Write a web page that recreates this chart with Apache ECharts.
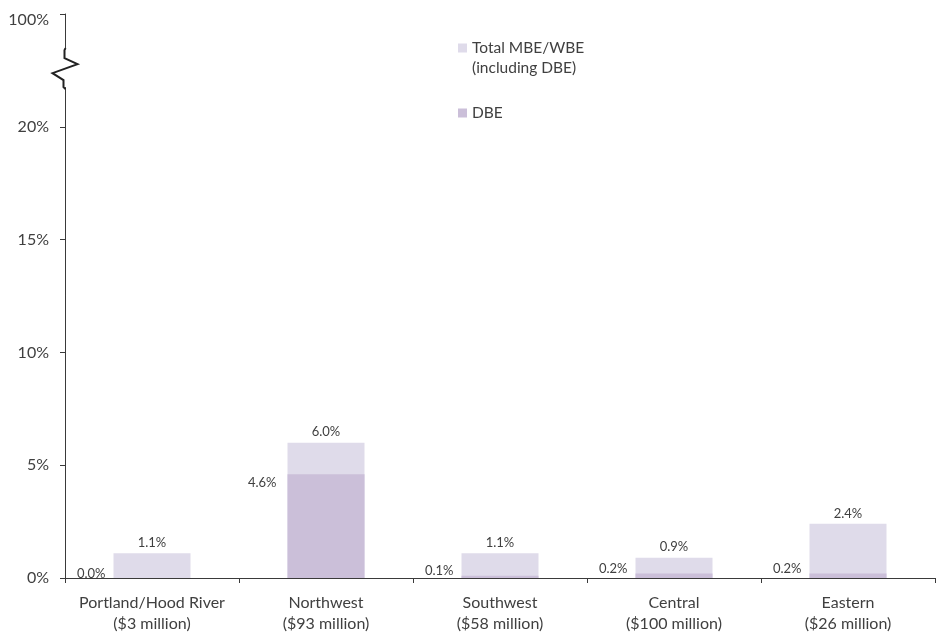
<!DOCTYPE html>
<html>
<head>
<meta charset="utf-8">
<style>
  html, body { margin: 0; padding: 0; background: #ffffff; }
  #chart { width: 940px; height: 634px; }
</style>
<script src="https://cdn.jsdelivr.net/npm/echarts@6/dist/echarts.min.js"></script>
</head>
<body>
<div id="chart"></div>
<script>
// Regions and contract totals
const regions = ['Portland/Hood River', 'Northwest', 'Southwest', 'Central', 'Eastern'];
const contractTotals = ['$3 million', '$93 million', '$58 million', '$100 million', '$26 million'];

// Utilization shares, percent of contract dollars
const totalMbeWbe = [1.1, 6.0, 1.1, 0.9, 2.4];
const dbe = [0.0, 4.6, 0.1, 0.2, 0.2];

// Value-axis ticks; the top tick stands for 100% above the axis break
const yTicks = [0, 5, 10, 15, 20, 25];
const yTickLabels = ['0%', '5%', '10%', '15%', '20%', '100%'];

const seriesNames = ['Total MBE/WBE\n(including DBE)', 'DBE'];

const FONT = 'Lato, "Open Sans", sans-serif';
const TEXT = '#404040';
const AXIS = '#3a3a3a';
const COLOR_TOTAL = '#dfdbea';
const COLOR_DBE = '#cbbfd9';

const chart = echarts.init(document.getElementById('chart'), null, { renderer: 'canvas' });

const categoryLabels = regions.map((r, i) => r + '\n(' + contractTotals[i] + ')');

// DBE value labels sit to the left of the bar: alongside its top for tall bars,
// resting on the baseline for very short ones
const dbeData = dbe.map(v => ({
  value: v,
  label: v >= 1
    ? { position: [-11, 2], align: 'right', verticalAlign: 'top' }
    : { position: [-8, 2], align: 'right', verticalAlign: 'bottom' }
}));

const option = {
  animation: false,
  backgroundColor: '#ffffff',
  textStyle: { fontFamily: FONT },
  grid: { left: 65, right: 5, top: 14, bottom: 55, containLabel: false },
  legend: {
    orient: 'vertical',
    left: 458,
    top: 18,
    padding: 0,
    itemGap: 25,
    itemWidth: 9,
    itemHeight: 9,
    icon: 'rect',
    selectedMode: false,
    textStyle: { fontFamily: FONT, fontSize: 15.5, color: TEXT, lineHeight: 20 },
    // a leading blank line keeps the swatch level with the first line of a two-line name
    formatter: name => name.indexOf('\n') >= 0 ? ' \n' + name : name,
    data: seriesNames
  },
  xAxis: {
    type: 'category',
    data: categoryLabels,
    axisLine: { lineStyle: { color: AXIS, width: 1 } },
    axisTick: { show: true, length: 5, lineStyle: { color: AXIS } },
    axisLabel: {
      color: TEXT, fontFamily: FONT, fontSize: 16, lineHeight: 21, margin: 14, interval: 0
    }
  },
  yAxis: {
    type: 'value',
    min: yTicks[0],
    max: yTicks[yTicks.length - 1],
    interval: yTicks[1] - yTicks[0],
    splitLine: { show: false },
    axisLine: { show: true, lineStyle: { color: AXIS, width: 1 } },
    axisTick: { show: true, length: 5, lineStyle: { color: AXIS } },
    axisLabel: {
      color: TEXT, fontFamily: FONT, fontSize: 16, margin: 16,
      // the top label sits a little below its tick
      formatter: v => {
        const i = yTicks.indexOf(v);
        return i === yTicks.length - 1 ? '{top|' + yTickLabels[i] + '}' : yTickLabels[i];
      },
      rich: {
        top: { color: TEXT, fontFamily: FONT, fontSize: 16, padding: [12, 0, 0, 0] }
      }
    }
  },
  series: [
    {
      name: seriesNames[0],
      type: 'bar',
      data: totalMbeWbe,
      barWidth: 77,
      barGap: '-100%',
      itemStyle: { color: COLOR_TOTAL },
      label: {
        show: true, position: 'top', distance: 4,
        color: TEXT, fontFamily: FONT, fontSize: 13,
        formatter: p => p.value.toFixed(1) + '%'
      },
      z: 2
    },
    {
      name: seriesNames[1],
      type: 'bar',
      data: dbeData,
      barWidth: 77,
      barGap: '-100%',
      itemStyle: { color: COLOR_DBE },
      label: {
        show: true,
        color: TEXT, fontFamily: FONT, fontSize: 13,
        formatter: p => p.value.toFixed(1) + '%'
      },
      z: 3
    }
  ]
};

chart.setOption(option);

// Axis break between 20% and 100%: erase a stretch of the axis line and draw a zigzag
function drawBreak() {
  const yMid = chart.convertToPixel({ yAxisIndex: 0 }, 22.6);
  const step = chart.convertToPixel({ xAxisIndex: 0 }, 1) - chart.convertToPixel({ xAxisIndex: 0 }, 0);
  const ax = Math.round(chart.convertToPixel({ xAxisIndex: 0 }, 0) - step / 2) + 0.5;
  chart.setOption({
    graphic: [
      {
        type: 'rect', z: 100,
        shape: { x: ax - 3, y: yMid - 19, width: 6, height: 38 },
        style: { fill: '#ffffff' }
      },
      {
        type: 'polyline', z: 101,
        shape: {
          points: [
            [ax, yMid - 20], [ax - 1, yMid - 18], [ax - 1, yMid - 10],
            [ax + 12, yMid - 4], [ax - 13, yMid + 5], [ax - 2, yMid + 12],
            [ax - 2, yMid + 19], [ax, yMid + 21]
          ]
        },
        style: { stroke: '#222222', lineWidth: 2, fill: null }
      }
    ]
  });
}
drawBreak();
</script>
</body>
</html>
